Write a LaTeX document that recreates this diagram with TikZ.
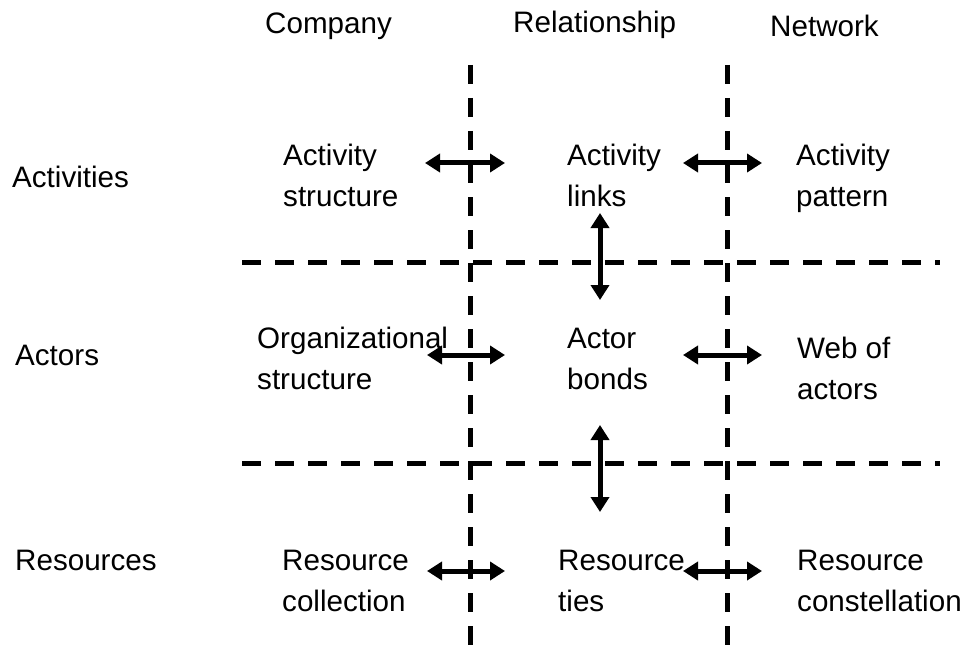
\documentclass[tikz,border=0pt]{standalone}
\usepackage{fontspec}
\setmainfont{Liberation Sans}
\usetikzlibrary{arrows.meta}
\begin{document}
\begin{tikzpicture}[x=1pt,y=-1pt,
  lbl/.style={anchor=base west,inner sep=0pt,align=left,font=\fontsize{29.6}{41}\selectfont},
  divider/.style={line width=5pt,dash pattern=on 19pt off 14pt},
  link/.style={line width=5pt,{Triangle[length=15pt,width=18pt]}-{Triangle[length=15pt,width=18pt]}}]
\useasboundingbox (0,0) rectangle (965,655);
% headers
\node[lbl] (hc) at (265,34) {Company};
\node[lbl] (hr) at (513,33) {Relationship};
\node[lbl] (hn) at (770,37) {Network};
% row labels
\node[lbl] (ra) at (12,187) {Activities};
\node[lbl] (rb) at (15,365) {Actors};
\node[lbl] (rc) at (15,570) {Resources};
% cells (anchor = baseline of last line)
\node[lbl] (a1) at (283,206) {Activity\\structure};
\node[lbl] (a2) at (567,206) {Activity\\links};
\node[lbl] (a3) at (796,206) {Activity\\pattern};
\node[lbl] (b1) at (257,389) {Organizational\\structure};
\node[lbl] (b2) at (567,389) {Actor\\bonds};
\node[lbl] (b3) at (797,399) {Web of\\actors};
\node[lbl] (c1) at (282,611) {Resource\\collection};
\node[lbl] (c2) at (558,611) {Resource\\ties};
\node[lbl] (c3) at (797,611) {Resource\\constellation};
% dividers
\coordinate (v1t) at (470,65); \coordinate (v1b) at (470,655);
\coordinate (v2t) at (727,65); \coordinate (v2b) at (727,655);
\coordinate (h1l) at (242,262); \coordinate (h1r) at (940,262);
\coordinate (h2l) at (242,463); \coordinate (h2r) at (940,463);
\draw[divider] (v1t) -- (v1b);
\draw[divider] (v2t) -- (v2b);
\draw[divider] (h1l) -- (h1r);
\draw[divider] (h2l) -- (h2r);
% arrows
\coordinate (p1) at (425,163); \coordinate (q1) at (505,163);
\coordinate (p2) at (683,163); \coordinate (q2) at (762,163);
\coordinate (p3) at (427,355); \coordinate (q3) at (505,355);
\coordinate (p4) at (683,355); \coordinate (q4) at (762,355);
\coordinate (p5) at (427,571); \coordinate (q5) at (505,571);
\coordinate (p6) at (683,571); \coordinate (q6) at (762,571);
\coordinate (u1) at (600,213); \coordinate (w1) at (600,300);
\coordinate (u2) at (600,425); \coordinate (w2) at (600,512);
\foreach \a/\b in {p1/q1,p2/q2,p3/q3,p4/q4,p5/q5,p6/q6,u1/w1,u2/w2}
  \draw[link] (\a) -- (\b);
\end{tikzpicture}
\end{document}
